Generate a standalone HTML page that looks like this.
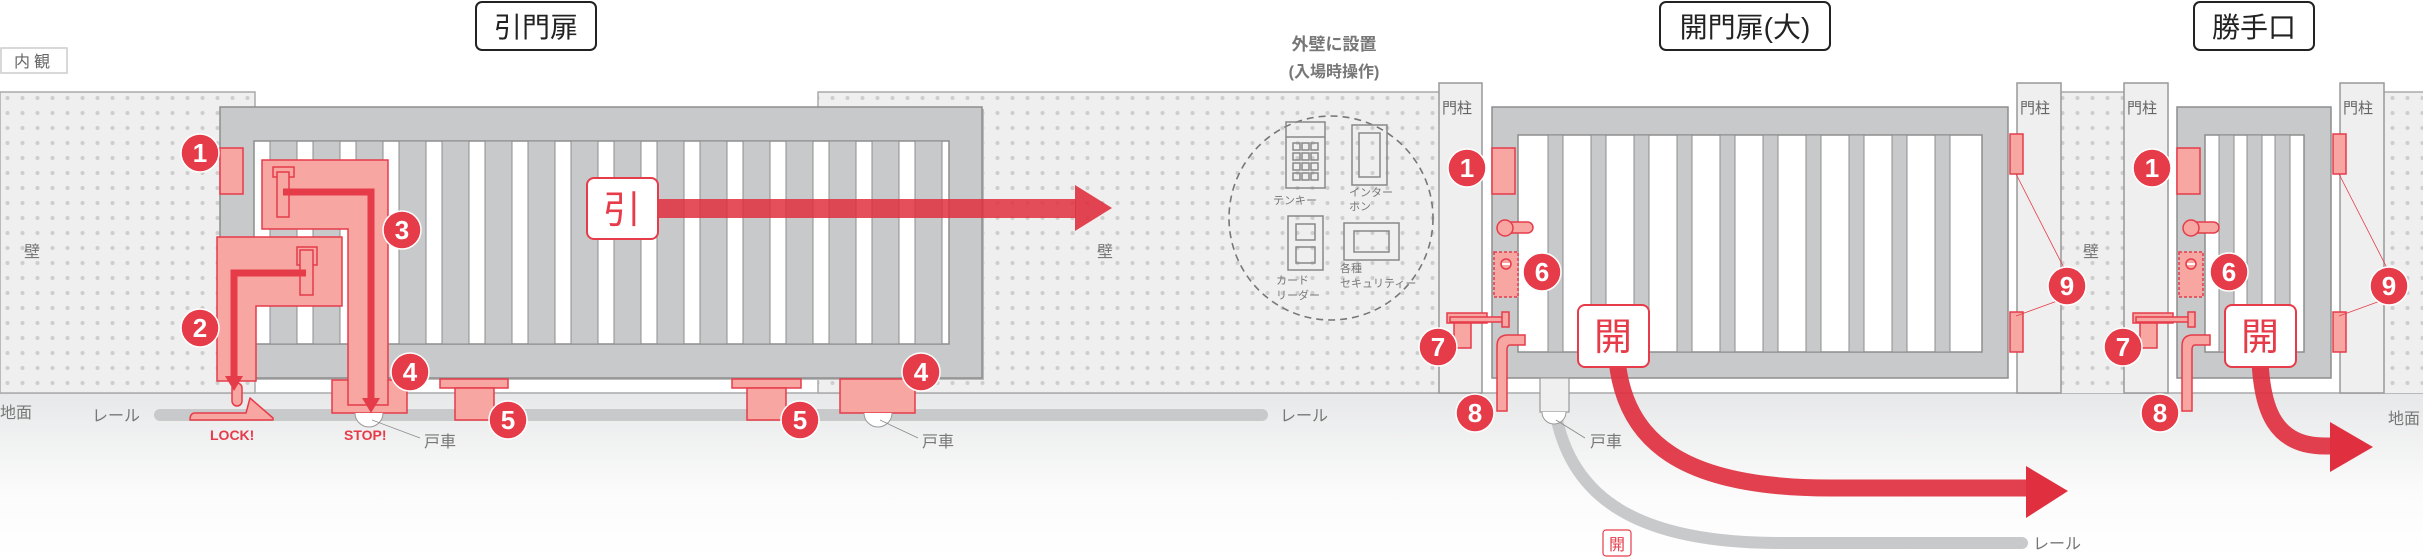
<!DOCTYPE html>
<html><head><meta charset="utf-8"><style>
html,body{margin:0;padding:0;background:#fff;}
svg{display:block;font-family:"Liberation Sans","Noto Sans CJK JP",sans-serif;}
</style></head><body>
<svg width="2423" height="558" viewBox="0 0 2423 558" xmlns="http://www.w3.org/2000/svg">
<defs>
<pattern id="dots" x="0" y="0" width="15" height="15" patternUnits="userSpaceOnUse">
<rect width="15" height="15" fill="#efefef"/><circle cx="7.5" cy="8" r="2" fill="#cdcdcd"/>
</pattern>
<linearGradient id="gnd" x1="0" y1="0" x2="0" y2="1">
<stop offset="0" stop-color="#e7e8e9"/><stop offset="0.6" stop-color="#fbfbfb"/><stop offset="1" stop-color="#fff"/>
</linearGradient>
</defs>
<!-- ground -->
<rect x="0" y="393" width="2423" height="165" fill="url(#gnd)"/>
<line x1="0" y1="393" x2="2423" y2="393" stroke="#aaa" stroke-width="1.5"/>
<!-- walls -->
<rect x="0" y="92" width="255" height="301" fill="url(#dots)" stroke="#aaa" stroke-width="1.5"/>
<rect x="818" y="92" width="622" height="301" fill="url(#dots)" stroke="#aaa" stroke-width="1.5"/>
<rect x="2061" y="92" width="64" height="301" fill="url(#dots)"/>
<rect x="2384" y="92" width="39" height="301" fill="url(#dots)"/>
<line x1="2061" y1="92" x2="2125" y2="92" stroke="#aaa" stroke-width="1.5"/>
<line x1="2384" y1="92" x2="2423" y2="92" stroke="#aaa" stroke-width="1.5"/>

<!-- titles -->
<rect x="476" y="2" width="120" height="48" rx="6" fill="#fff" stroke="#222" stroke-width="2"/>
<text x="536" y="37" font-size="28" text-anchor="middle" fill="#222">引門扉</text>
<rect x="1660" y="2" width="170" height="48" rx="6" fill="#fff" stroke="#222" stroke-width="2"/>
<text x="1745" y="37" font-size="28" text-anchor="middle" fill="#222">開門扉(大)</text>
<rect x="2194" y="2" width="120" height="48" rx="6" fill="#fff" stroke="#222" stroke-width="2"/>
<text x="2254" y="37" font-size="28" text-anchor="middle" fill="#222">勝手口</text>
<rect x="1" y="48" width="66" height="25" fill="#fff" stroke="#ccc" stroke-width="1.5"/>
<text x="34" y="67" font-size="16" text-anchor="middle" fill="#666" letter-spacing="4">内観</text>
<text x="1334" y="50" font-size="17" text-anchor="middle" fill="#777" font-weight="bold">外壁に設置</text>
<text x="1334" y="77" font-size="16" text-anchor="middle" fill="#777" font-weight="bold">(入場時操作)</text>

<!-- wall / ground labels -->
<g font-size="16" fill="#777">
<text x="24" y="257">壁</text><text x="1097" y="257">壁</text><text x="2083" y="257">壁</text>
<text x="0" y="418">地面</text><text x="2388" y="424">地面</text>
<text x="92" y="421">レール</text><text x="1280" y="421">レール</text><text x="2033" y="549">レール</text>
<text x="424" y="447">戸車</text><text x="922" y="447">戸車</text><text x="1590" y="447">戸車</text>
</g>

<!-- rail -->
<line x1="160" y1="415" x2="1262" y2="415" stroke="#c8c9cb" stroke-width="12" stroke-linecap="round"/>
<path d="M1555,410 C1570,500 1640,543 1780,543 L2022,543" fill="none" stroke="#c8c9cb" stroke-width="12" stroke-linecap="round"/>

<!-- sliding gate -->
<rect x="222" y="109" width="762" height="271" fill="#b9babc"/>
<rect x="220" y="107" width="762" height="271" fill="#c8c9cb" stroke="#8d8d8d" stroke-width="1.5"/>
<rect x="254" y="141" width="695" height="203" fill="#fff" stroke="#8d8d8d" stroke-width="1.5"/>
<g fill="#c8c9cb" stroke="#8d8d8d" stroke-width="1">
<rect x="270" y="141" width="27" height="203"/><rect x="313" y="141" width="27" height="203"/><rect x="356" y="141" width="27" height="203"/><rect x="399" y="141" width="27" height="203"/><rect x="442" y="141" width="27" height="203"/><rect x="485" y="141" width="27" height="203"/><rect x="528" y="141" width="27" height="203"/><rect x="571" y="141" width="27" height="203"/><rect x="614" y="141" width="27" height="203"/><rect x="657" y="141" width="27" height="203"/><rect x="700" y="141" width="27" height="203"/><rect x="743" y="141" width="27" height="203"/><rect x="786" y="141" width="27" height="203"/><rect x="829" y="141" width="27" height="203"/><rect x="872" y="141" width="27" height="203"/><rect x="915" y="141" width="27" height="203"/>
</g>
<!-- 引 arrow -->
<rect x="658" y="199" width="418" height="19" fill="#e0303f" opacity="0.85"/>
<polygon points="1075,185 1112,208 1075,231" fill="#e0303f" opacity="0.9"/>
<rect x="587" y="178" width="71" height="61" rx="7" fill="#fff" stroke="#e63c4a" stroke-width="2"/>
<text x="622" y="223" font-size="38" text-anchor="middle" fill="#e63c4a">引</text>

<!-- sliding gate parts -->
<g fill="#f7a6a1" stroke="#e63c4a" stroke-width="1.5">
<rect x="220" y="148" width="23" height="46"/>
<rect x="440" y="379" width="68" height="9"/><rect x="455" y="388" width="39" height="32"/>
<rect x="732" y="379" width="69" height="9"/><rect x="747" y="388" width="39" height="32"/>
<rect x="840" y="379" width="75" height="34"/>
<rect x="332" y="380" width="75" height="33"/>
<polygon points="262,160 388,160 388,405 348,405 348,229 262,229"/>
<rect x="273" y="167" width="21" height="10"/><rect x="277" y="172" width="12" height="45"/>
<polygon points="217,237 342,237 342,306 256,306 256,381 217,381"/>
<rect x="297" y="247" width="20" height="18"/><rect x="300" y="250" width="13" height="45"/>
<rect x="232" y="383" width="10" height="23" rx="5"/>
<path d="M195,413 L246,413 L250,398 L273,418 L273,420 L190,420 Q190,413 195,413Z" stroke-linejoin="round"/>
</g>
<g fill="none" stroke="#e63c4a" stroke-width="7">
<polyline points="283,192 371,192 371,400"/>
<polyline points="306,273 234,273 234,378"/>
</g>
<polygon points="362,398 380,398 371,413" fill="#e63c4a"/>
<polygon points="225,376 243,376 234,391" fill="#e63c4a"/>
<path d="M355,413 A14,14 0 0 0 383,413" fill="#fff" stroke="#999" stroke-width="1"/>
<path d="M864,413 A14,14 0 0 0 892,413" fill="#fff" stroke="#999" stroke-width="1"/>
<line x1="372" y1="420" x2="420" y2="438" stroke="#888" stroke-width="0.8"/>
<line x1="880" y1="420" x2="918" y2="438" stroke="#888" stroke-width="0.8"/>
<g font-size="14" font-weight="bold" fill="#e63c4a">
<text x="210" y="440">LOCK!</text><text x="344" y="440">STOP!</text>
</g>

<!-- dashed circle devices -->
<circle cx="1331" cy="218" r="102" fill="none" stroke="#777" stroke-width="1.6" stroke-dasharray="7,5"/>
<g fill="none" stroke="#888" stroke-width="1.5">
<rect x="1286" y="122" width="39" height="66"/><line x1="1286" y1="137" x2="1325" y2="137"/>
<rect x="1293" y="143" width="7" height="7"/><rect x="1302" y="143" width="7" height="7"/><rect x="1311" y="143" width="7" height="7"/>
<rect x="1293" y="153" width="7" height="7"/><rect x="1302" y="153" width="7" height="7"/><rect x="1311" y="153" width="7" height="7"/>
<rect x="1293" y="163" width="7" height="7"/><rect x="1302" y="163" width="7" height="7"/><rect x="1311" y="163" width="7" height="7"/>
<rect x="1293" y="173" width="7" height="7"/><rect x="1302" y="173" width="7" height="7"/><rect x="1311" y="173" width="7" height="7"/>
<rect x="1352" y="125" width="35" height="60"/><rect x="1359" y="133" width="21" height="44"/>
<rect x="1288" y="216" width="35" height="54"/><rect x="1296" y="224" width="19" height="16"/><rect x="1296" y="247" width="19" height="16"/>
<rect x="1344" y="223" width="55" height="37"/><rect x="1354" y="231" width="35" height="21"/>
</g>
<g font-size="11" fill="#777">
<text x="1273" y="204">テンキー</text><text x="1349" y="196">インター</text><text x="1349" y="210">ホン</text>
<text x="1276" y="284">カード</text><text x="1276" y="299">リーダー</text>
<text x="1340" y="272">各種</text><text x="1340" y="287">セキュリティー</text>
</g>

<!-- posts -->
<g fill="#efefef" stroke="#999" stroke-width="1.5">
<rect x="1439" y="83" width="43" height="310"/><rect x="2017" y="83" width="44" height="310"/>
<rect x="2124" y="83" width="44" height="310"/><rect x="2340" y="83" width="44" height="310"/>
</g>
<g font-size="15" fill="#666">
<text x="1442" y="113">門柱</text><text x="2020" y="113">門柱</text><text x="2127" y="113">門柱</text><text x="2343" y="113">門柱</text>
</g>

<!-- swing gate -->
<rect x="1492" y="107" width="516" height="271" fill="#c8c9cb" stroke="#8d8d8d" stroke-width="1.5"/>
<rect x="1518" y="135" width="464" height="217" fill="#fff" stroke="#8d8d8d" stroke-width="1.5"/>
<g fill="#c8c9cb" stroke="#8d8d8d" stroke-width="1">
<rect x="1548" y="135" width="15" height="217"/><rect x="1591" y="135" width="15" height="217"/><rect x="1634" y="135" width="15" height="217"/><rect x="1677" y="135" width="15" height="217"/><rect x="1720" y="135" width="15" height="217"/><rect x="1763" y="135" width="15" height="217"/><rect x="1806" y="135" width="15" height="217"/><rect x="1849" y="135" width="15" height="217"/><rect x="1892" y="135" width="15" height="217"/><rect x="1935" y="135" width="15" height="217"/>
</g>
<rect x="1540" y="378" width="29" height="34" fill="#efefef" stroke="#999" stroke-width="1.2"/>
<path d="M1542,412 A12,12 0 0 0 1566,412" fill="#fff" stroke="#999" stroke-width="1"/>
<line x1="1556" y1="420" x2="1585" y2="438" stroke="#888" stroke-width="0.8"/>

<!-- small gate -->
<rect x="2177" y="107" width="154" height="271" fill="#c8c9cb" stroke="#8d8d8d" stroke-width="1.5"/>
<rect x="2205" y="135" width="99" height="217" fill="#fff" stroke="#8d8d8d" stroke-width="1.5"/>
<g fill="#c8c9cb" stroke="#8d8d8d" stroke-width="1">
<rect x="2219" y="135" width="15" height="217"/><rect x="2247" y="135" width="15" height="217"/><rect x="2275" y="135" width="15" height="217"/>
</g>

<!-- swing gate parts (two sets) -->
<g fill="#f7a6a1" stroke="#e63c4a" stroke-width="1.5">
<rect x="1492" y="148" width="23" height="46"/><rect x="2177" y="148" width="23" height="46"/>
<rect x="2010" y="134" width="13" height="40"/><rect x="2010" y="312" width="13" height="40"/>
<rect x="2333" y="134" width="13" height="40"/><rect x="2333" y="312" width="13" height="40"/>
<rect x="1500" y="222" width="33" height="11" rx="5.5"/><circle cx="1505" cy="228" r="8"/>
<rect x="2186" y="222" width="33" height="11" rx="5.5"/><circle cx="2191" cy="228" r="8"/>
<rect x="1494" y="252" width="24" height="45" stroke-dasharray="3,2"/>
<rect x="2179" y="252" width="24" height="45" stroke-dasharray="3,2"/>
<circle cx="1506" cy="264" r="5"/><circle cx="2191" cy="264" r="5"/>
<rect x="1447" y="313" width="40" height="10"/><rect x="1450" y="317" width="56" height="5"/><rect x="1502" y="312" width="7" height="15"/><rect x="1454" y="323" width="17" height="25"/>
<rect x="2133" y="313" width="40" height="10"/><rect x="2136" y="317" width="56" height="5"/><rect x="2188" y="312" width="7" height="15"/><rect x="2140" y="323" width="17" height="25"/>
<path d="M1497,411 L1497,346 Q1497,335 1508,335 L1525,335 L1525,345 L1510,345 Q1507,345 1507,350 L1507,411Z"/>
<path d="M2182,411 L2182,346 Q2182,335 2193,335 L2210,335 L2210,345 L2195,345 Q2192,345 2192,350 L2192,411Z"/>
</g>
<g stroke="#e63c4a" stroke-width="0.8">
<line x1="2016" y1="174" x2="2064" y2="268"/><line x1="2016" y1="316" x2="2060" y2="300"/>
<line x1="2339" y1="174" x2="2387" y2="268"/><line x1="2339" y1="316" x2="2383" y2="300"/>
</g>
<g fill="#e63c4a"><rect x="1502" y="263" width="8" height="2" fill="#fff"/><rect x="2187" y="263" width="8" height="2" fill="#fff"/></g>

<!-- curved arrows -->
<path d="M1617,360 C1625,440 1680,488 1830,488 L2030,488" fill="none" stroke="#e0303f" stroke-width="17" opacity="0.92"/>
<polygon points="2026,466 2068,491 2026,518" fill="#e0303f"/>
<path d="M2260,360 C2262,410 2275,446 2325,446 L2332,446" fill="none" stroke="#e0303f" stroke-width="17" opacity="0.92"/>
<polygon points="2330,422 2373,447 2330,472" fill="#e0303f"/>
<rect x="1578" y="305" width="71" height="62" rx="7" fill="#fff" stroke="#e63c4a" stroke-width="2"/>
<text x="1613" y="350" font-size="38" text-anchor="middle" fill="#e63c4a">開</text>
<rect x="2225" y="305" width="71" height="62" rx="7" fill="#fff" stroke="#e63c4a" stroke-width="2"/>
<text x="2260" y="350" font-size="38" text-anchor="middle" fill="#e63c4a">開</text>
<rect x="1603" y="530" width="28" height="26" rx="3" fill="#fff" stroke="#e63c4a" stroke-width="1.2"/>
<text x="1617" y="550" font-size="16" text-anchor="middle" fill="#e63c4a">開</text>

<!-- numbered badges -->
<g fill="#e63c4a" stroke="#fff" stroke-width="1.5">
<circle cx="200" cy="153" r="19"/><circle cx="200" cy="328" r="19"/><circle cx="402" cy="230" r="19"/>
<circle cx="410" cy="372" r="19"/><circle cx="921" cy="372" r="19"/><circle cx="508" cy="420" r="19"/><circle cx="800" cy="420" r="19"/>
<circle cx="1467" cy="168" r="19"/><circle cx="1542" cy="272" r="19"/><circle cx="1438" cy="347" r="19"/><circle cx="1475" cy="413" r="19"/><circle cx="2067" cy="286" r="19"/>
<circle cx="2152" cy="168" r="19"/><circle cx="2229" cy="272" r="19"/><circle cx="2123" cy="347" r="19"/><circle cx="2160" cy="413" r="19"/><circle cx="2389" cy="286" r="19"/>
</g>
<g fill="#fff" font-size="26" font-weight="bold" text-anchor="middle">
<text x="200" y="162">1</text><text x="200" y="337">2</text><text x="402" y="239">3</text>
<text x="410" y="381">4</text><text x="921" y="381">4</text><text x="508" y="429">5</text><text x="800" y="429">5</text>
<text x="1467" y="177">1</text><text x="1542" y="281">6</text><text x="1438" y="356">7</text><text x="1475" y="422">8</text><text x="2067" y="295">9</text>
<text x="2152" y="177">1</text><text x="2229" y="281">6</text><text x="2123" y="356">7</text><text x="2160" y="422">8</text><text x="2389" y="295">9</text>
</g>
</svg>
</body></html>
